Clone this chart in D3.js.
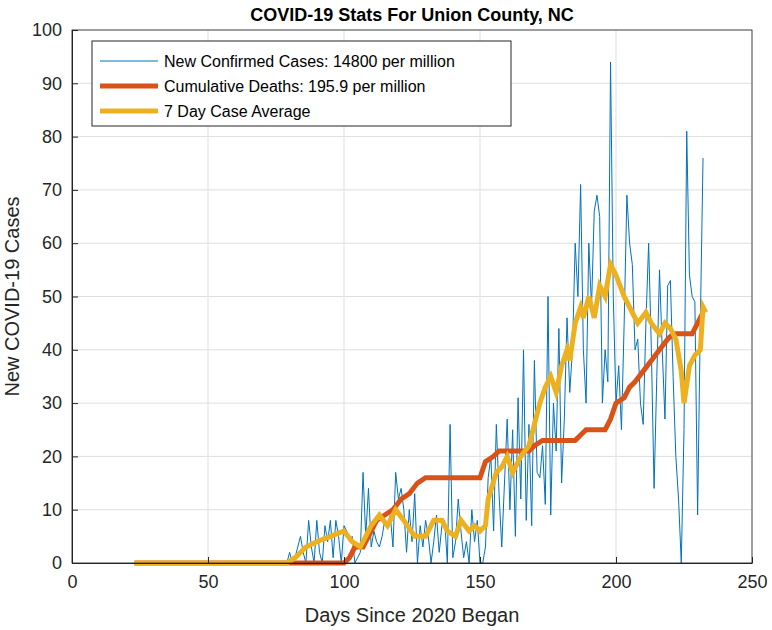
<!DOCTYPE html>
<html><head><meta charset="utf-8">
<script src="https://cdn.jsdelivr.net/npm/d3@7"></script>
<style>body{margin:0;background:#fff}text{font-family:"Liberation Sans",Arial,sans-serif}</style>
</head><body><div id="chart"></div>
<script>
// New confirmed cases, days 79..232 (days 23..78 are zero)
var caseStart = 79;
var cases = [0,2,0,1,3,5,2,0,8,3,0,8,2,0,7,4,8,1,8,5,0,7,
  6,4,5,0,1,2,17,5,14,3,6,4,3,5,8,
  7,9,3,17,12,14,10,2,10,4,13,0,7,3,8,
  5,0,4,9,2,7,8,0,26,1,4,12,6,1,4,0,10,4,8,0,
  0,3,16,20,6,26,13,3,15,27,
  10,25,5,31,12,40,8,26,7,38,17,16,22,11,50,
  9,30,21,44,15,27,46,32,40,60,50,71,40,30,60,
  48,66,69,65,30,40,34,94,50,30,37,25,45,69,60,
  56,40,42,30,26,45,60,40,14,35,55,40,27,52,53,
  35,20,12,0,25,81,54,50,49,9,45,76];
var deathPts = [[23,0],[100,0],[102,1],[104,3],[107,3],[110,6],[112,8],[115,9],[118,10],[121,12],[124,13],[127,15],[130,16],[150,16],[152,19],[155,20],[157,21],[168,21],[170,22],[173,23],[185,23],[187,24],[189,25],[196,25],[198,27],[200,30],[203,31],[205,33],[207,34],[210,36],[213,38],[216,40],[219,42],[221,43],[228,43],[230,45],[232,47]];
var avgPts = [[23,0],[79,0],[82,1],[86,3],[90,4],[95,5],[100,6],[103,4],[106,3],[110,7],[113,9],[116,7],[119,10],[122,8],[126,5],[130,5],[133,8],[136,8],[138,6],[141,5],[143,8],[146,6],[148,7],[150,6],[152,7],[153,12],[156,17],[158,18],[160,20],[162,17],[165,20],[168,22],[170,26],[172,30],[174,33],[176,35],[178,32],[180,37],[182,40],[183,38],[185,45],[187,48],[188,46],[190,50],[192,46],[194,52],[196,50],[198,56],[200,54],[203,50],[206,47],[208,45],[211,47],[213,45],[216,43],[218,45],[220,44],[222,42],[224,36],[225,30],[227,37],[229,39],[231,40],[232,48],[233,47]];
var legendLabels = ["New Confirmed Cases: 14800 per million","Cumulative Deaths: 195.9 per million","7 Day Case Average"];
var colors = ["#0072bd","#d95319","#edb120"];

var caseData = [];
for (var d = 23; d < caseStart; d++) caseData.push([d, 0]);
cases.forEach(function(v, i){ caseData.push([caseStart + i, v]); });

var svgWidth = 772, svgHeight = 630;
var m = {top: 30, right: 20, bottom: 67, left: 72};
var w = svgWidth - m.left - m.right, h = svgHeight - m.top - m.bottom;

var svg = d3.select("#chart").append("svg").attr("width", svgWidth).attr("height", svgHeight);
var g = svg.append("g").attr("transform", `translate(${m.left},${m.top})`);

var x = d3.scaleLinear().domain([0,250]).range([0,w]);
var y = d3.scaleLinear().domain([0,100]).range([h,0]);

// grid
g.append("g").selectAll("line").data(x.ticks(5)).enter().append("line")
  .attr("x1", x).attr("x2", x).attr("y1", 0).attr("y2", h).attr("stroke","#dfdfdf");
g.append("g").selectAll("line").data(y.ticks(10)).enter().append("line")
  .attr("y1", y).attr("y2", y).attr("x1", 0).attr("x2", w).attr("stroke","#dfdfdf");

var line = d3.line().x(d => x(d[0])).y(d => y(d[1]));
g.append("path").datum(caseData).attr("d", line).attr("fill","none").attr("stroke",colors[0]).attr("stroke-width",1);
g.append("path").datum(deathPts).attr("d", line).attr("fill","none").attr("stroke",colors[1]).attr("stroke-width",5);
g.append("path").datum(avgPts).attr("d", line).attr("fill","none").attr("stroke",colors[2]).attr("stroke-width",5);

// axes
var xAxis = g.append("g").attr("transform", `translate(0,${h})`)
  .call(d3.axisBottom(x).ticks(5).tickSizeInner(-6).tickSizeOuter(0).tickPadding(12));
var yAxis = g.append("g").call(d3.axisLeft(y).ticks(10).tickSizeInner(-6).tickSizeOuter(0).tickPadding(10));
[xAxis, yAxis].forEach(function(a){
  a.selectAll("text").attr("font-size",18).attr("fill","#262626").style("font-family","Liberation Sans, Arial");
  a.selectAll("line, path").attr("stroke","#262626");
});
g.append("rect").attr("width", w).attr("height", h).attr("fill","none").attr("stroke","#262626").attr("stroke-width",0.8);

svg.append("text").attr("x", m.left + w/2).attr("y", 21).attr("text-anchor","middle")
  .attr("font-weight","bold").attr("font-size",18).text("COVID-19 Stats For Union County, NC");
svg.append("text").attr("x", m.left + w/2).attr("y", 622).attr("text-anchor","middle")
  .attr("font-size",20).attr("fill","#262626").text("Days Since 2020 Began");
svg.append("text").attr("transform","rotate(-90)").attr("x", -(m.top + h/2)).attr("y", 19)
  .attr("text-anchor","middle").attr("font-size",20).attr("fill","#262626").text("New COVID-19 Cases");

// legend
var lg = svg.append("g").attr("transform","translate(92,41)");
lg.append("rect").attr("width",419).attr("height",85).attr("fill","#fff").attr("stroke","#262626");
legendLabels.forEach(function(t, i){
  var yy = 20 + i*25;
  lg.append("line").attr("x1",8).attr("x2",66).attr("y1",yy).attr("y2",yy)
    .attr("stroke",colors[i]).attr("stroke-width", i ? 5 : 1);
  lg.append("text").attr("x",72).attr("y",yy+6).attr("font-size",16).attr("fill","#000").text(t);
});
</script></body></html>
